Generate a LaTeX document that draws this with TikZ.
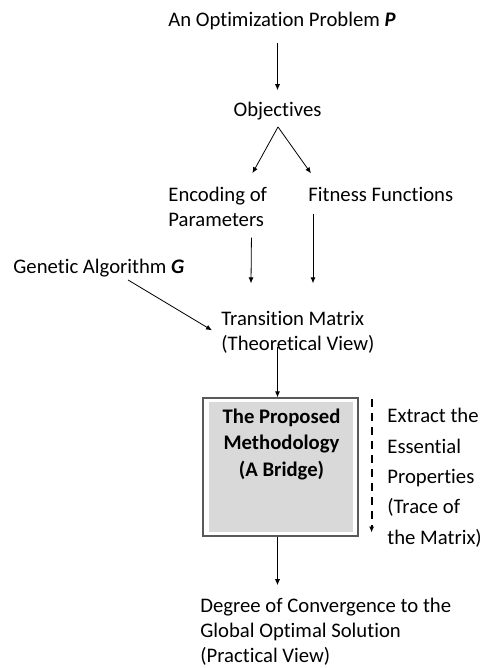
\documentclass[tikz,border=0pt]{standalone}
\usepackage{fontspec}
\setmainfont[Ligatures=NoCommon]{Carlito}
\usepackage{tikz}
\usetikzlibrary{arrows.meta}
\usetikzlibrary{calc}
\tikzset{>={Latex[length=6pt,width=5pt]}}
\tikzset{
	txt/.style={inner sep=0pt, align=left, font=\fontsize{20.7}{25}\selectfont},
	bridge/.style={draw=black!65, line width=1.2pt, minimum width=155pt, minimum height=138pt, inner sep=0pt}
}

\begin{document}
\begin{tikzpicture}[x=1pt, y=-1pt, line width=0.8pt]
	\useasboundingbox (0,0) rectangle (481,668);

	\node[txt, anchor=base] (prob) at (282,27) {An Optimization Problem \textbf{\textit{P}}};
	\node[txt, anchor=base] (obj) at (277.5,117) {Objectives};
	\node[txt, anchor=base west] (enc) at (168,226) {Encoding of\\Parameters};
	\node[txt, anchor=base west] (fit) at (308,201) {Fitness Functions};
	\node[txt, anchor=base west] (gen) at (13,273) {Genetic Algorithm \textbf{\textit{G}}};
	\node[txt, anchor=base west] (trans) at (221,350) {Transition Matrix\\(Theoretical View)};

	\node[bridge] (box) at (280.5,467) {};
	\fill[black!15] ($(box.north west)+(7,5)$) rectangle ($(box.south east)+(-6,-5)$);
	\node[txt, align=center, anchor=base, font=\fontsize{20.7}{26.5}\selectfont\bfseries] (meth) at (281.5,476) {The Proposed\\Methodology\\(A Bridge)};

	\node[txt, anchor=base west, font=\fontsize{20.7}{30.3}\selectfont] (extr) at (387,544) {Extract the\\Essential\\Properties\\(Trace of\\the Matrix)};
	\node[txt, anchor=base west] (deg) at (200,662) {Degree of Convergence to the\\Global Optimal Solution\\(Practical View)};

	\draw[->] ($(prob.south -| obj)+(0,12)$) -- ($(obj.north)+(0,-12)$);
	\draw[->] ($(obj.south)+(0.5,6)$) -- ($(enc.north east)+(-15,-13)$);
	\draw[->] ($(obj.south)+(0.5,6)$) -- ($(fit.north west)+(3,-13)$);
	\draw[->] ($(enc.south east)+(-16,11)$) -- ($(trans.north west)+(30,-27)$);
	\draw[->] ($(fit.south west)+(5,12)$) -- ($(trans.north west)+(92,-27)$);
	\draw[->] ($(gen.south west)+(115,3)$) -- ($(trans.north west)+(-9,20)$);
	\draw[->] ($(trans.south -| obj)+(0,-6)$) -- (box.north -| obj);
	\draw[->] (box.south -| obj) -- ($(deg.north -| obj)+(0,-12)$);
	\draw[->, line width=1.8pt, dash pattern=on 8pt off 6pt] ($(box.north east)+(13,2)$) -- ($(box.south east)+(13,-4)$);
\end{tikzpicture}
\end{document}
